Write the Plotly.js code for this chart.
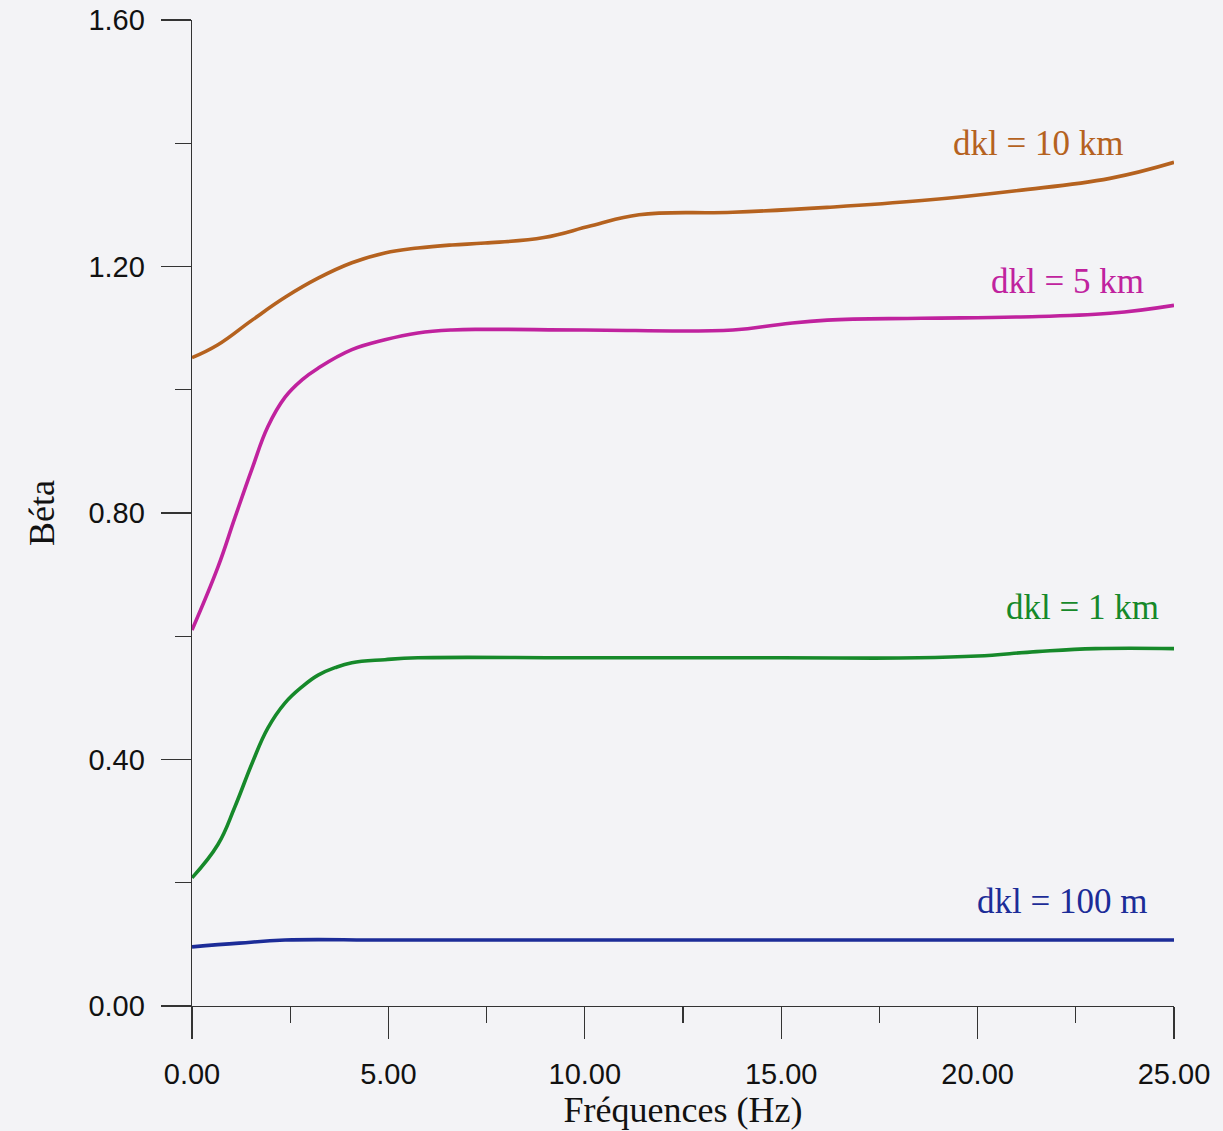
<!DOCTYPE html>
<html>
<head>
<meta charset="utf-8">
<script src="https://cdn.plot.ly/plotly-3.0.1.min.js"></script>
<style>
html,body{margin:0;padding:0;background:#f3f3f6;}
#chart{width:1223px;height:1131px;}
</style>
</head>
<body>
<div id="chart"></div>
<script>
// Frequencies (Hz) and Béta values
const freq10km = [0, 0.66, 1.53, 2.37, 3.21, 4.07, 4.91, 5.75, 6.62, 7.46, 8.96, 10.16, 11.38, 13.77, 16.17, 18.58, 20.98, 23.37, 25.0];
const beta10km = [1.052, 1.073, 1.113, 1.150, 1.181, 1.206, 1.222, 1.230, 1.235, 1.238, 1.247, 1.266, 1.284, 1.288, 1.296, 1.307, 1.323, 1.343, 1.369];

const freq5km = [0, 0.66, 1.09, 1.53, 1.93, 2.37, 2.80, 3.21, 4.07, 4.91, 5.75, 6.62, 7.46, 10.0, 13.77, 14.97, 16.17, 18.58, 20.98, 23.37, 25.0];
const beta5km = [0.610, 0.712, 0.792, 0.872, 0.940, 0.988, 1.016, 1.035, 1.065, 1.081, 1.092, 1.097, 1.098, 1.097, 1.097, 1.106, 1.113, 1.116, 1.118, 1.124, 1.137];

const freq1km = [0, 0.66, 1.09, 1.53, 1.93, 2.37, 2.80, 3.21, 3.64, 4.07, 4.91, 5.75, 10.0, 15.0, 18.5, 20.0, 21.5, 23.0, 25.0];
const beta1km = [0.208, 0.262, 0.323, 0.394, 0.451, 0.492, 0.518, 0.537, 0.549, 0.557, 0.562, 0.565, 0.565, 0.565, 0.565, 0.568, 0.575, 0.580, 0.580];

const freq100m = [0, 1.2, 2.37, 5.0, 10.0, 15.0, 20.0, 25.0];
const beta100m = [0.096, 0.102, 0.107, 0.107, 0.107, 0.107, 0.107, 0.107];

const seriesLabels = ['dkl = 10 km', 'dkl = 5 km', 'dkl = 1 km', 'dkl = 100 m'];
const labelX = [21.54, 22.3, 22.68, 22.15];
const labelY = [1.400, 1.176, 0.647, 0.170];
const colors = ['#b5621f', '#c0229e', '#16892a', '#1c2c98'];

const xs = [freq10km, freq5km, freq1km, freq100m];
const ys = [beta10km, beta5km, beta1km, beta100m];

const traces = xs.map((x, i) => ({
  x: x, y: ys[i], type: 'scatter', mode: 'lines',
  line: {color: colors[i], width: 3.6, shape: 'spline', smoothing: 1.2},
  name: seriesLabels[i], hoverinfo: 'skip'
}));

const annotations = seriesLabels.map((t, i) => ({
  x: labelX[i], y: labelY[i], xref: 'x', yref: 'y', text: t, showarrow: false,
  font: {family: 'Liberation Serif, Times New Roman, serif', size: 35, color: colors[i]}
}));

const tickFont = {family: 'Liberation Sans, Arial, sans-serif', size: 29, color: '#111'};
const titleFont = {family: 'Liberation Serif, Times New Roman, serif', size: 36, color: '#111'};

const layout = {
  width: 1223, height: 1131,
  paper_bgcolor: '#f3f3f6', plot_bgcolor: '#f3f3f6',
  margin: {l: 192, r: 49, t: 20, b: 125},
  showlegend: false,
  xaxis: {
    range: [0, 25], dtick: 5, tick0: 0, tickformat: '.2f',
    showgrid: false, zeroline: false, showline: true, linecolor: '#333', linewidth: 1.3,
    ticks: 'outside', ticklen: 32, tickwidth: 1.3, tickcolor: '#333',
    minor: {dtick: 2.5, ticks: 'outside', ticklen: 16, tickwidth: 1.3, tickcolor: '#333', showgrid: false},
    tickfont: tickFont, ticklabelstandoff: 10,
    title: {text: 'Fréquences (Hz)', font: titleFont, standoff: 2}
  },
  yaxis: {
    range: [0, 1.6], dtick: 0.4, tick0: 0, tickformat: '.2f',
    showgrid: false, zeroline: false, showline: true, linecolor: '#333', linewidth: 1.3,
    ticks: 'outside', ticklen: 30, tickwidth: 1.3, tickcolor: '#333',
    minor: {dtick: 0.2, ticks: 'outside', ticklen: 16, tickwidth: 1.3, tickcolor: '#333', showgrid: false},
    tickfont: tickFont, ticklabelstandoff: 10,
    title: {text: 'Béta', font: titleFont, standoff: 22}
  },
  annotations: annotations
};

Plotly.newPlot('chart', traces, layout, {staticPlot: true, displayModeBar: false});
</script>
</body>
</html>
